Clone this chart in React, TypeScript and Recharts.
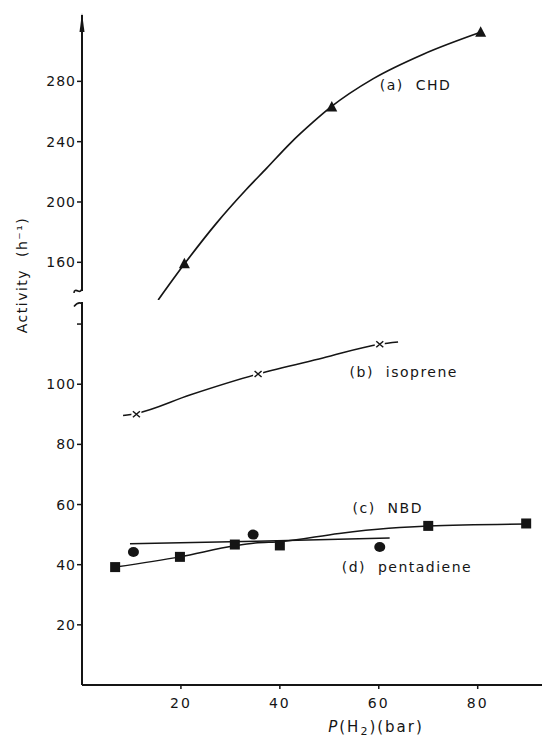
import React from 'react';
import { ComposedChart, Line, Scatter, XAxis, YAxis, ReferenceLine, ReferenceDot, Label } from 'recharts';

const W = 544;
const H = 738;
const INK = '#151515';
const FONT = '"DejaVu Sans", sans-serif';

// (a) CHD, drawn against the upper part of the broken axis
const chdPoints = [
  { x: 20.7, y: 159 },
  { x: 50.5, y: 263 },
  { x: 80.6, y: 312.5 },
];
const chdCurve = [
  { x: 15.4, y: 135 },
  { x: 20.8, y: 159.3 },
  { x: 27.2, y: 186 },
  { x: 33.3, y: 208.6 },
  { x: 37.3, y: 222.3 },
  { x: 42, y: 238.6 },
  { x: 46.7, y: 252.9 },
  { x: 50.4, y: 263.2 },
  { x: 58.9, y: 281.8 },
  { x: 69, y: 298 },
  { x: 80.7, y: 312.7 },
];

// (b) isoprene
const isoPoints = [
  { x: 11, y: 90 },
  { x: 35.6, y: 103.4 },
  { x: 60.2, y: 113.3 },
];
const isoCurve = [
  { x: 8.3, y: 89.6 },
  { x: 11, y: 90.3 },
  { x: 21.8, y: 96.4 },
  { x: 35.6, y: 103.4 },
  { x: 48.7, y: 108.7 },
  { x: 60.2, y: 113.3 },
  { x: 63.9, y: 114 },
];

// (c) NBD - squares, line runs through them
const nbdPoints = [
  { x: 6.7, y: 39.2 },
  { x: 19.8, y: 42.6 },
  { x: 30.9, y: 46.7 },
  { x: 40, y: 46.4 },
  { x: 70, y: 52.9 },
  { x: 89.8, y: 53.7 },
];
const nbdCurve = [
  { x: 6.7, y: 39.2 },
  { x: 19.8, y: 42.6 },
  { x: 30.9, y: 46.3 },
  { x: 35, y: 47.2 },
  { x: 40, y: 47.6 },
  { x: 52, y: 50.4 },
  { x: 62, y: 52.1 },
  { x: 70, y: 52.9 },
  { x: 89.8, y: 53.5 },
];

// (d) pentadiene - circles with a flat fitted line
const pentPoints = [
  { x: 10.4, y: 44.2 },
  { x: 34.6, y: 50 },
  { x: 60.2, y: 45.9 },
];
const pentFit = [
  { x: 9.7, y: 47 },
  { x: 35.3, y: 47.8 },
  { x: 62.2, y: 48.9 },
];

const xTicks = [20, 40, 60, 80];
const upperTicks = [160, 200, 240, 280];
const lowerTicks = [20, 40, 60, 80, 100, 120];
const xDomain = [0, 93];
const upperDomain = [135, 324];
const lowerDomain = [0, 128];

const tickText = { fill: INK, fontSize: 14, fontFamily: FONT, letterSpacing: 1 };
const tickStroke = { stroke: INK, strokeWidth: 1.5 };

const Triangle = (p: any) => (
  <path d={`M${p.cx},${p.cy - 6} L${p.cx + 5.5},${p.cy + 4.5} L${p.cx - 5.5},${p.cy + 4.5} Z`} fill={INK} />
);
const Square = (p: any) => <rect x={p.cx - 5} y={p.cy - 5} width={10} height={10} fill={INK} />;
const Dot = (p: any) => <ellipse cx={p.cx} cy={p.cy} rx={5.5} ry={5} fill={INK} />;
const Cross = (p: any) => (
  <g>
    <rect x={p.cx - 5} y={p.cy - 4} width={10} height={8} fill="#fff" />
    <path
      d={`M${p.cx - 3.5},${p.cy - 3} L${p.cx + 3.5},${p.cy + 3} M${p.cx + 3.5},${p.cy - 3} L${p.cx - 3.5},${p.cy + 3}`}
      stroke={INK}
      strokeWidth={1.5}
    />
  </g>
);

const Arrow = (p: any) => (
  <path d={`M${p.cx},${p.cy - 2} L${p.cx - 2.5},${p.cy + 17} L${p.cx + 2.5},${p.cy + 17} Z`} fill={INK} />
);
const BreakTop = (p: any) => (
  <path
    d={`M${p.cx},${p.cy - 4} C${p.cx},${p.cy} ${p.cx - 2},${p.cy + 1} ${p.cx - 4},${p.cy} S${p.cx - 8},${p.cy - 1} ${p.cx - 8},${p.cy + 2}`}
    fill="none"
    stroke={INK}
    strokeWidth={1.6}
  />
);
const BreakBottom = (p: any) => (
  <path
    d={`M${p.cx - 8},${p.cy + 2} Q${p.cx - 4},${p.cy - 3} ${p.cx},${p.cy - 1} L${p.cx},${p.cy + 4}`}
    fill="none"
    stroke={INK}
    strokeWidth={1.6}
  />
);

const note = (text: string) => (p: any) => (
  <text x={p.cx} y={p.cy} dy="0.35em" fill={INK} fontSize={14} fontFamily={FONT} letterSpacing={1.5}>
    {text}
  </text>
);

const YTitle = (p: any) => {
  const x = p.viewBox.x + 27;
  const y = p.viewBox.y + 260;
  return (
    <text x={x} y={y} transform={`rotate(-90, ${x}, ${y})`} textAnchor="middle" fill={INK} fontSize={14} fontFamily={FONT} letterSpacing={1.5}>
      {'Activity\u00a0\u00a0(h⁻¹)'}
    </text>
  );
};

const XTitle = (p: any) => (
  <text x={p.viewBox.x + 294} y={p.viewBox.y + 47} textAnchor="middle" fill={INK} fontSize={15} fontFamily={FONT} letterSpacing={2}>
    <tspan fontStyle="italic">P</tspan>
    (H<tspan fontSize={11} dy={3}>2</tspan>
    <tspan dy={-3}>)(bar)</tspan>
  </text>
);

const layer: React.CSSProperties = { position: 'absolute', left: 0, top: 0 };

const App = () => (
  <div style={{ position: 'absolute', left: 0, top: 0, width: W, height: H, background: '#fff' }}>
    <div style={layer}>
      <ComposedChart width={W} height={H} margin={{ top: 300, right: 2, bottom: 0, left: 0 }}>
        <XAxis
          type="number"
          dataKey="x"
          domain={xDomain}
          ticks={xTicks}
          interval={0}
          height={53}
          tickSize={4}
          tickMargin={9}
          axisLine={{ stroke: INK, strokeWidth: 2 }}
          tickLine={tickStroke}
          tick={{ ...tickText, letterSpacing: 2 }}
          allowDataOverflow
        >
          <Label content={XTitle} />
        </XAxis>
        <YAxis
          type="number"
          dataKey="y"
          domain={lowerDomain}
          ticks={lowerTicks}
          interval={0}
          width={82}
          axisLine={false}
          tickSize={5}
          tickMargin={1}
          tickLine={tickStroke}
          tick={tickText}
          tickFormatter={(v: number) => (v === 120 ? '' : String(v))}
          allowDataOverflow
        />
        <ReferenceLine segment={[{ x: 0, y: 0 }, { x: 0, y: 127.3 }]} stroke={INK} strokeWidth={2} />
        <ReferenceDot x={0} y={126.5} r={0} shape={BreakBottom} />
        <Line data={isoCurve} dataKey="y" type="monotone" stroke={INK} strokeWidth={1.5} dot={false} isAnimationActive={false} />
        <Line data={nbdCurve} dataKey="y" type="monotone" stroke={INK} strokeWidth={1.5} dot={false} isAnimationActive={false} />
        <Line data={pentFit} dataKey="y" type="linear" stroke={INK} strokeWidth={1.5} dot={false} isAnimationActive={false} />
        <Scatter data={isoPoints} dataKey="y" shape={Cross} isAnimationActive={false} />
        <Scatter data={nbdPoints} dataKey="y" shape={Square} isAnimationActive={false} />
        <Scatter data={pentPoints} dataKey="y" shape={Dot} isAnimationActive={false} />
        <ReferenceDot x={54.1} y={104} r={0} shape={note('(b)\u00a0\u00a0isoprene')} />
        <ReferenceDot x={54.7} y={58.7} r={0} shape={note('(c)\u00a0\u00a0NBD')} />
        <ReferenceDot x={52.5} y={39.3} r={0} shape={note('(d)\u00a0\u00a0pentadiene')} />
      </ComposedChart>
    </div>
    <div style={layer}>
      <ComposedChart width={W} height={H} margin={{ top: 15, right: 2, bottom: 438, left: 0 }}>
        <XAxis type="number" dataKey="x" domain={xDomain} hide allowDataOverflow />
        <YAxis
          type="number"
          dataKey="y"
          domain={upperDomain}
          ticks={upperTicks}
          interval={0}
          width={82}
          axisLine={false}
          tickSize={5}
          tickMargin={1}
          tickLine={tickStroke}
          tick={tickText}
          allowDataOverflow
        >
          <Label content={YTitle} />
        </YAxis>
        <ReferenceLine segment={[{ x: 0, y: 141 }, { x: 0, y: 324 }]} stroke={INK} strokeWidth={2} />
        <ReferenceDot x={0} y={324} r={0} shape={Arrow} />
        <ReferenceDot x={0} y={141} r={0} shape={BreakTop} />
        <Line data={chdCurve} dataKey="y" type="monotone" stroke={INK} strokeWidth={1.7} dot={false} isAnimationActive={false} />
        <Scatter data={chdPoints} dataKey="y" shape={Triangle} isAnimationActive={false} />
        <ReferenceDot x={60.2} y={277.3} r={0} shape={note('(a)\u00a0\u00a0CHD')} />
      </ComposedChart>
    </div>
  </div>
);

export default App;
